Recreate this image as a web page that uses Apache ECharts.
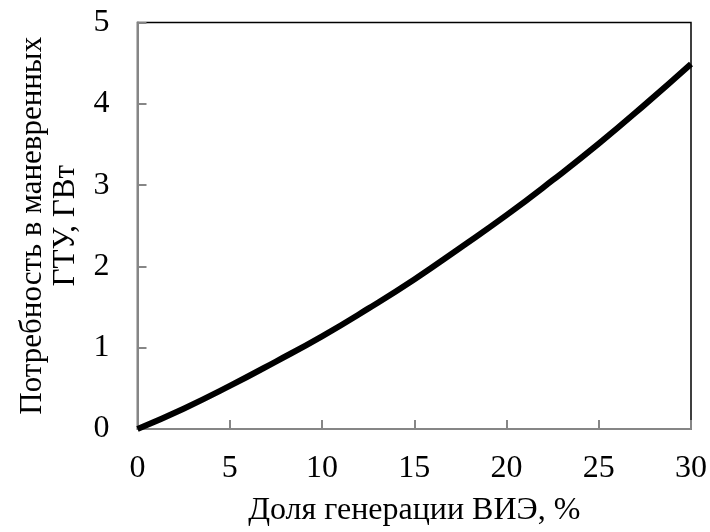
<!DOCTYPE html>
<html>
<head>
<meta charset="utf-8">
<script src="https://cdn.jsdelivr.net/npm/echarts@6/dist/echarts.min.js"></script>
<style>html,body{margin:0;padding:0;background:#fff}#c{width:710px;height:532px}</style>
</head>
<body>
<div id="c"></div>
<script>
var xValues = [0, 2.5, 5, 7.5, 10, 12.5, 15, 17.5, 20, 22.5, 25, 27.5, 30];
var yValues = [0, 0.25, 0.53, 0.83, 1.14, 1.48, 1.84, 2.23, 2.63, 3.06, 3.51, 3.99, 4.49];
var xTicks = [0, 5, 10, 15, 20, 25, 30];
var yTicks = [0, 1, 2, 3, 4, 5];
var xTitle = 'Доля генерации ВИЭ, %';
var yTitle = 'Потребность в маневренных\nГТУ, ГВт';

var font = '"Liberation Serif", "Times New Roman", serif';
var points = xValues.map(function (x, i) { return [x, yValues[i]]; });
var chart = echarts.init(document.getElementById('c'), null, {renderer: 'canvas'});
chart.setOption({
  animation: false,
  backgroundColor: '#fff',
  grid: {left: 137.5, right: 19, top: 22.5, bottom: 99.5, show: true, borderColor: '#000', borderWidth: 1.5, backgroundColor: 'transparent'},
  xAxis: {
    type: 'value', min: xTicks[0], max: xTicks[xTicks.length - 1], interval: 5,
    name: xTitle, nameLocation: 'middle', nameGap: 66,
    nameTextStyle: {fontFamily: font, fontSize: 32, color: '#000'},
    axisLine: {show: true, lineStyle: {color: '#868686', width: 2}},
    axisTick: {show: true, inside: true, length: 9, lineStyle: {color: '#868686', width: 2}},
    axisLabel: {fontFamily: font, fontSize: 32, color: '#000', margin: 24},
    splitLine: {show: false}
  },
  yAxis: {
    type: 'value', min: yTicks[0], max: yTicks[yTicks.length - 1], interval: 1,
    name: yTitle, nameLocation: 'middle', nameGap: 47,
    nameTextStyle: {fontFamily: font, fontSize: 31, color: '#000', lineHeight: 33},
    axisLine: {show: true, lineStyle: {color: '#868686', width: 2}},
    axisTick: {show: true, inside: true, length: 9, lineStyle: {color: '#868686', width: 2}},
    axisLabel: {fontFamily: font, fontSize: 32, color: '#000', margin: 28},
    splitLine: {show: false}
  },
  series: [{
    type: 'line', data: points, smooth: true, symbol: 'none',
    lineStyle: {color: '#000', width: 6}, clip: true
  }]
});
</script>
</body>
</html>
